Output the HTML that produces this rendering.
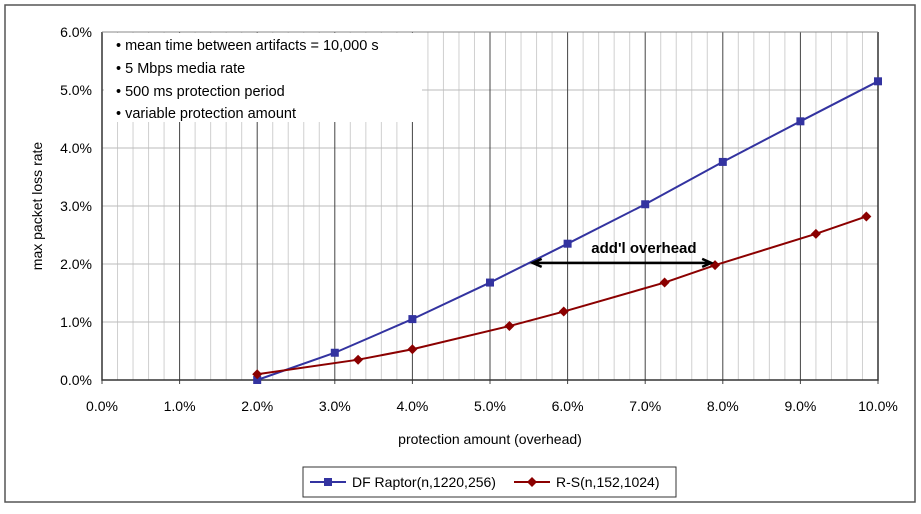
<!DOCTYPE html>
<html><head><meta charset="utf-8"><style>
body{margin:0;background:#fff;font-family:"Liberation Sans",sans-serif}
</style></head><body>
<svg id="c" width="921" height="509" xmlns="http://www.w3.org/2000/svg" font-family="Liberation Sans, sans-serif">
<rect x="5" y="5" width="910" height="497" fill="#fff" stroke="#555" stroke-width="1.5"/>
<g id="grid"></g>
<g id="ticks"></g>
<rect x="104" y="33" width="318" height="89" fill="#fff"/>
<g font-size="14.5" fill="#000">
<text x="116" y="50">• mean time between artifacts = 10,000 s</text>
<text x="116" y="73">• 5 Mbps media rate</text>
<text x="116" y="96">• 500 ms protection period</text>
<text x="116" y="118">• variable protection amount</text>
</g>
<g id="series"></g>
<text x="490" y="444" font-size="14" text-anchor="middle">protection amount (overhead)</text>
<text transform="translate(42,206) rotate(-90)" font-size="14" text-anchor="middle">max packet loss rate</text>
<g>
<rect x="303" y="467" width="373" height="30" fill="#fff" stroke="#333"/>
<g>
<line x1="310" y1="482" x2="346" y2="482" stroke="#3333a0" stroke-width="2"/>
<rect x="324" y="478" width="8" height="8" fill="#3333a0"/>
<text x="352" y="487" font-size="14">DF Raptor(n,1220,256)</text></g>
<g>
<line x1="514" y1="482" x2="550" y2="482" stroke="#8b0000" stroke-width="2"/>
<path d="M532,477 L537,482 L532,487 L527,482Z" fill="#8b0000"/>
<text x="556" y="487" font-size="14">R-S(n,152,1024)</text></g>
</g>
</svg>
<script>
const xTicks=[0,1,2,3,4,5,6,7,8,9,10];
const yTicks=[0,1,2,3,4,5,6];
const dfX=[2.0,3.0,4.0,5.0,6.0,7.0,8.0,9.0,10.0];
const dfY=[0.0,0.47,1.05,1.68,2.35,3.03,3.76,4.46,5.15];
const rsX=[2.0,3.3,4.0,5.25,5.95,7.25,7.9,9.2,9.85];
const rsY=[0.1,0.35,0.53,0.93,1.18,1.68,1.98,2.52,2.82];
const arrowFrom=5.55, arrowTo=7.85, arrowY=2.02;
const X0=102,X1=878,Y0=380,Y1=32;
const sx=v=>X0+(X1-X0)*v/10, sy=v=>Y0-(Y0-Y1)*v/6;
const NS="http://www.w3.org/2000/svg";
function mk(p,t,a){const e=document.createElementNS(NS,t);for(const k in a)e.setAttribute(k,a[k]);p.appendChild(e);return e;}
const gGrid=document.getElementById('grid'),gTk=document.getElementById('ticks'),gSer=document.getElementById('series');
for(let i=0;i<=50;i++){const v=i/5;if(i%5===0)continue;
const l=mk(gGrid,'line',{x1:sx(v),x2:sx(v),y1:Y1,y2:Y0,stroke:'#d0d0d0','stroke-width':1});

}
yTicks.forEach(v=>{const l=mk(gGrid,'line',{x1:X0,x2:X1,y1:sy(v),y2:sy(v),stroke:'#bbb','stroke-width':1});


const t=mk(gTk,'text',{x:X0-10,y:sy(v)+5,'font-size':14,'text-anchor':'end'});t.textContent=v.toFixed(1)+'%';

});
xTicks.forEach(v=>{const l=mk(gGrid,'line',{x1:sx(v),x2:sx(v),y1:Y1,y2:Y0+4,stroke:'#444','stroke-width':1});


const t=mk(gTk,'text',{x:sx(v),y:Y0+31,'font-size':14,'text-anchor':'middle'});t.textContent=v.toFixed(1)+'%';

});
const axPath=mk(gGrid,'path',{d:`M${X0},${Y1}V${Y0}H${X1}V${Y1}`,fill:'none',stroke:'#333','stroke-width':1.5});


const topLine=mk(gGrid,'line',{x1:X0,x2:X1,y1:Y1,y2:Y1,stroke:'#888'});


function series(xs,ys,col,name,diamond){
const p=mk(gSer,'polyline',{points:xs.map((x,i)=>sx(x)+','+sy(ys[i])).join(' '),fill:'none',stroke:col,'stroke-width':2});


xs.forEach((x,i)=>{const cx=sx(x),cy=sy(ys[i]);let m;
if(diamond)m=mk(gSer,'path',{d:`M${cx},${cy-5}L${cx+5},${cy}L${cx},${cy+5}L${cx-5},${cy}Z`,fill:col});
else m=mk(gSer,'rect',{x:cx-4,y:cy-4,width:8,height:8,fill:col});

});}
series(dfX,dfY,'#3333a0','df-raptor',false);
series(rsX,rsY,'#8b0000','rs',true);
const ay=sy(arrowY),a1=sx(arrowFrom),a2=sx(arrowTo);
const arr=mk(gSer,'path',{d:`M${a1},${ay}H${a2}M${a1+9},${ay-4}L${a1},${ay}L${a1+9},${ay+4}M${a2-9},${ay-4}L${a2},${ay}L${a2-9},${ay+4}`,stroke:'#000','stroke-width':2.5,fill:'none'});


const atx=mk(gSer,'text',{x:(a1+a2)/2+22,y:ay-10,'font-size':15,'font-weight':'bold','text-anchor':'middle'});atx.textContent="add'l overhead";


</script>
</body></html>
